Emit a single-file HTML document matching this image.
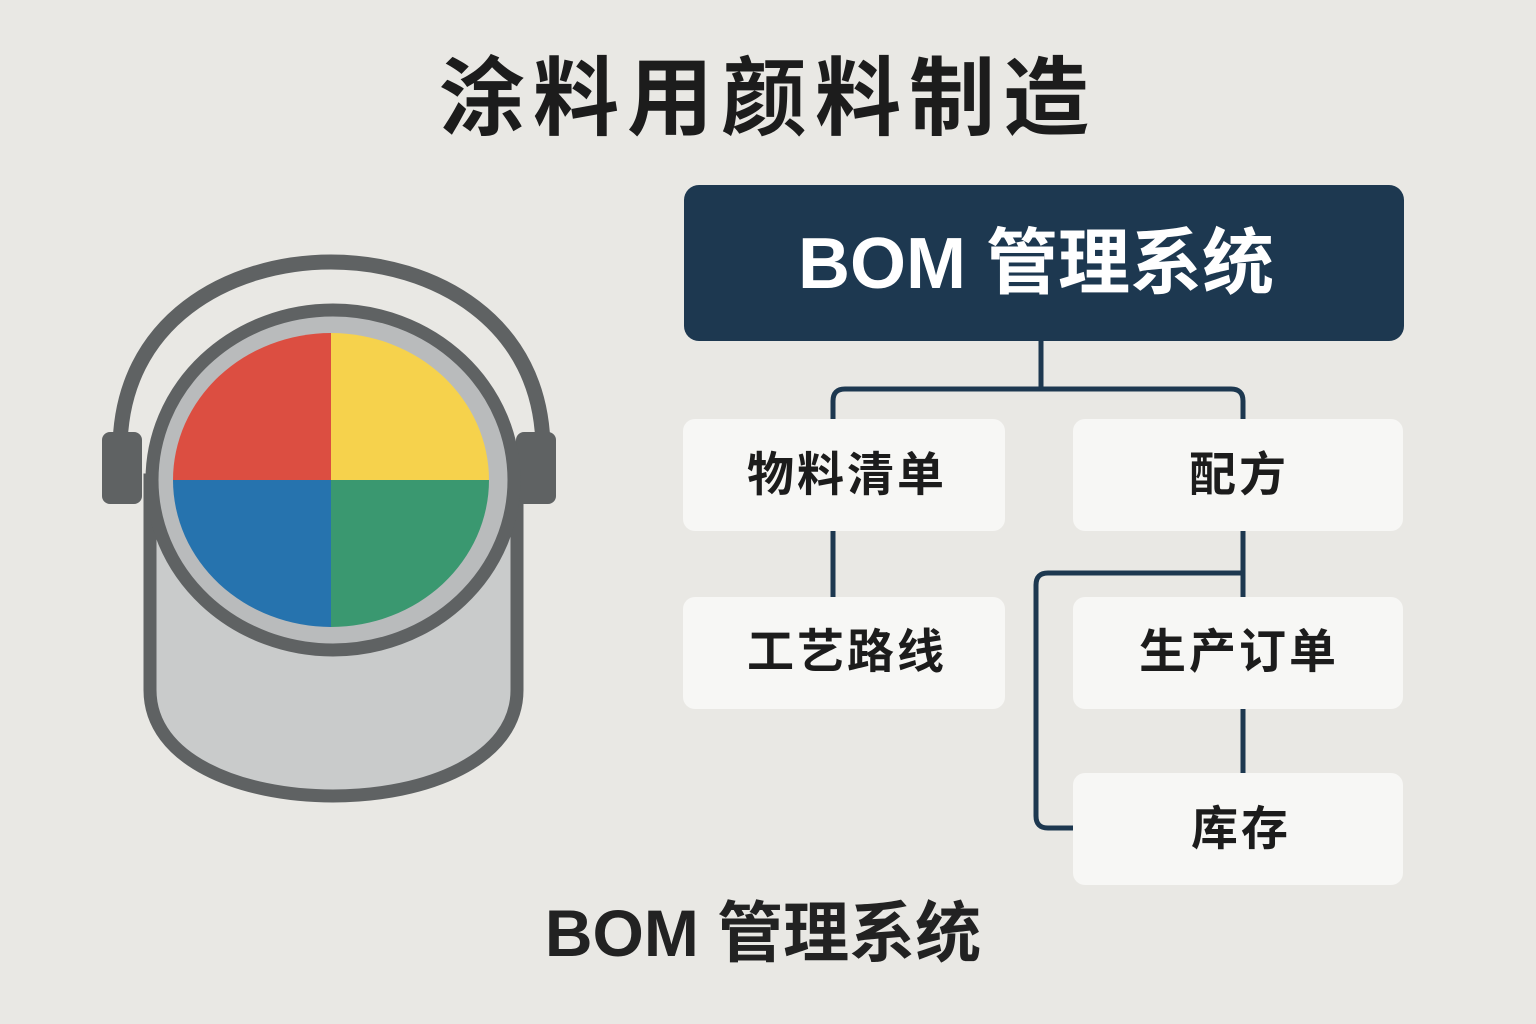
<!DOCTYPE html>
<html><head><meta charset="utf-8"><style>
html,body{margin:0;padding:0;background:#e9e8e4;}
svg{display:block}
text{font-family:"Liberation Sans","Noto Sans CJK SC",sans-serif;font-weight:bold}
</style></head><body>
<svg width="1536" height="1024" viewBox="0 0 1536 1024" xmlns="http://www.w3.org/2000/svg">
<rect width="1536" height="1024" fill="#e9e8e4"/>
<text x="768" y="128" font-size="86" text-anchor="middle" fill="#1c1c1c" letter-spacing="8">涂料用颜料制造</text>

<!-- paint can -->
<path d="M120,450 C120,320 230,262 331,262 C432,262 543,320 543,450" fill="none" stroke="#5f6263" stroke-width="15"/>
<rect x="102" y="432" width="40" height="72" rx="8" fill="#5f6263"/>
<rect x="516" y="432" width="40" height="72" rx="8" fill="#5f6263"/>
<path d="M150,480 L150,690 C150,760 240,796 333,796 C426,796 517,760 517,690 L517,480 Z" fill="#c9cbcb" stroke="#5f6263" stroke-width="13"/>
<ellipse cx="333" cy="480" rx="181" ry="170" fill="#b9bbbc" stroke="#5f6263" stroke-width="13"/>
<clipPath id="cp"><ellipse cx="331" cy="480" rx="158" ry="147"/></clipPath>
<g clip-path="url(#cp)">
<rect x="170" y="330" width="161" height="150" fill="#dc4e41"/>
<rect x="331" y="330" width="162" height="150" fill="#f6d24c"/>
<rect x="170" y="480" width="161" height="150" fill="#2673ae"/>
<rect x="331" y="480" width="162" height="150" fill="#3a9870"/>
</g>

<!-- connectors -->
<g fill="none" stroke="#1d3850" stroke-width="5">
<path d="M1041,340 L1041,389"/>
<path d="M833,420 L833,401 Q833,389 845,389 L1231,389 Q1243,389 1243,401 L1243,420"/>
<path d="M833,531 L833,597"/>
<path d="M1243,531 L1243,597"/>
<path d="M1243,573 L1048,573 Q1036,573 1036,585 L1036,816 Q1036,828 1048,828 L1073,828"/>
<path d="M1243,708 L1243,773"/>
</g>

<!-- top box -->
<rect x="684" y="185" width="720" height="156" rx="15" fill="#1d3850"/>
<text x="1036" y="288" font-size="72" text-anchor="middle" fill="#ffffff" xml:space="preserve">BOM 管理系统</text>

<!-- child boxes -->
<g fill="#f7f7f5">
<rect x="683" y="419" width="322" height="112" rx="12"/>
<rect x="1073" y="419" width="330" height="112" rx="12"/>
<rect x="683" y="597" width="322" height="112" rx="12"/>
<rect x="1073" y="597" width="330" height="112" rx="12"/>
<rect x="1073" y="773" width="330" height="112" rx="12"/>
</g>
<g font-size="47" text-anchor="middle" fill="#1c1c1c" letter-spacing="3">
<text x="847" y="491">物料清单</text>
<text x="1239" y="491">配方</text>
<text x="847" y="668">工艺路线</text>
<text x="1239" y="668">生产订单</text>
<text x="1241" y="845">库存</text>
</g>

<text x="763" y="956" font-size="66" text-anchor="middle" fill="#222" xml:space="preserve">BOM 管理系统</text>
</svg>
</body></html>
